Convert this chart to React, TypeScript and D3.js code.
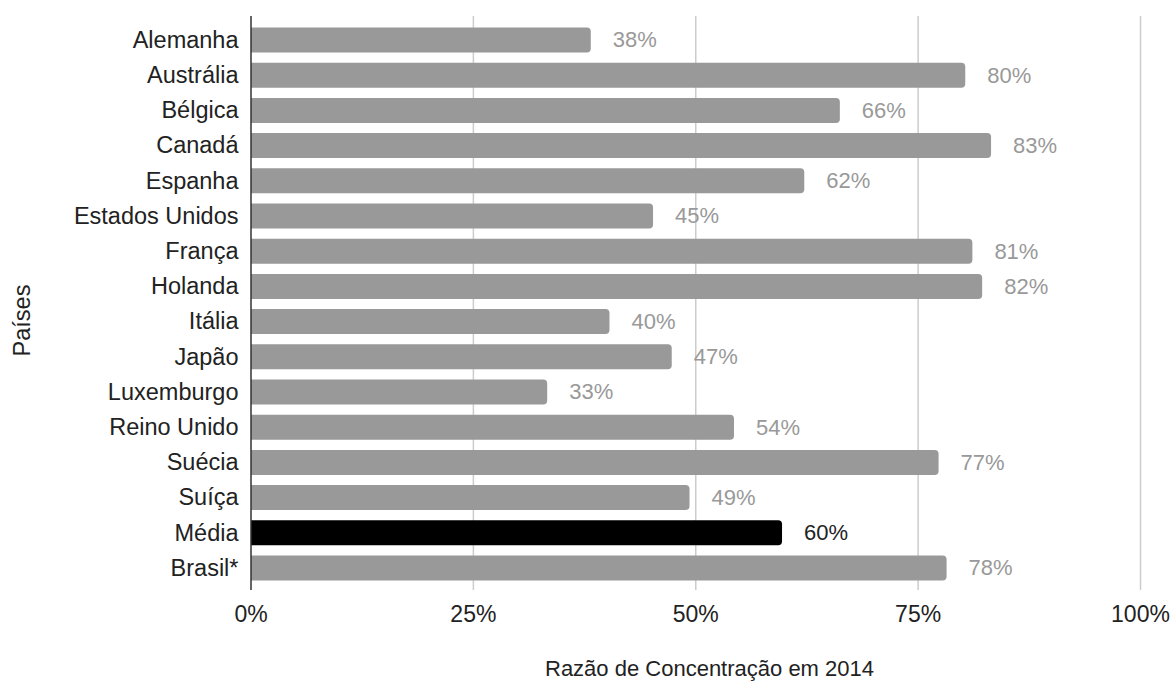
import React from "react";
import * as d3 from "d3";

const categories = [
  "Alemanha", "Austrália", "Bélgica", "Canadá", "Espanha", "Estados Unidos",
  "França", "Holanda", "Itália", "Japão", "Luxemburgo", "Reino Unido",
  "Suécia", "Suíça", "Média", "Brasil*",
];
const values = [
  38.2, 80.3, 66.2, 83.2, 62.2, 45.2, 81.1, 82.2, 40.3, 47.3, 33.3, 54.3,
  77.3, 49.3, 59.7, 78.2,
];
const highlighted = ["Média"];
const xTicks = [0, 25, 50, 75, 100];
const xTitle = "Razão de Concentração em 2014";
const yTitle = "Países";

const W = 1171;
const H = 684;
const FONT = "Arial, 'Liberation Sans', sans-serif";

export default function App() {
  const x = d3.scaleLinear().domain([0, 100]).range([251, 1140.5]);
  const y = d3
    .scaleBand<string>()
    .domain(categories)
    .range([22.4, 585.6])
    .paddingInner(0.29)
    .paddingOuter(0.145);
  const fmt = d3.format(".0%");
  const bw = y.bandwidth();
  const r = 4;
  const top = 16;
  const bottom = 590;

  const barPath = (v: number, c: string) => {
    const x0 = x(0);
    const x1 = x(v);
    const y0 = y(c) as number;
    const y1 = y0 + bw;
    return `M${x0},${y0}H${x1 - r}Q${x1},${y0} ${x1},${y0 + r}V${y1 - r}Q${x1},${y1} ${x1 - r},${y1}H${x0}Z`;
  };

  return (
    <svg
      width={W}
      height={H}
      style={{ position: "absolute", left: 0, top: 0, background: "#fff" }}
      fontFamily={FONT}
    >
      {xTicks.slice(1).map((t) => (
        <line key={t} x1={x(t)} x2={x(t)} y1={top} y2={bottom} stroke="#cccccc" strokeWidth={1.5} />
      ))}
      {categories.map((c, i) => (
        <path key={c} d={barPath(values[i], c)} fill={highlighted.includes(c) ? "#000000" : "#999999"} />
      ))}
      {categories.map((c, i) => (
        <text
          key={"l" + c}
          x={x(values[i]) + 22}
          y={(y(c) as number) + bw / 2}
          dy="0.34em"
          fontSize={22}
          fill={highlighted.includes(c) ? "#222222" : "#999999"}
        >
          {fmt(values[i] / 100)}
        </text>
      ))}
      {categories.map((c) => (
        <text
          key={"c" + c}
          x={238.5}
          y={(y(c) as number) + bw / 2}
          dy="0.33em"
          fontSize={23.5}
          textAnchor="end"
          fill="#222222"
        >
          {c}
        </text>
      ))}
      <line x1={x(0)} x2={x(0)} y1={top} y2={bottom} stroke="#333333" strokeWidth={1.5} />
      {xTicks.map((t) => (
        <text key={"t" + t} x={x(t)} y={621.5} fontSize={23} textAnchor="middle" fill="#222222">
          {fmt(t / 100)}
        </text>
      ))}
      <text x={709.5} y={676} fontSize={22} textAnchor="middle" fill="#222222">
        {xTitle}
      </text>
      <text
        transform={`translate(30,320.5) rotate(-90)`}
        fontSize={23.5}
        textAnchor="middle"
        fill="#222222"
      >
        {yTitle}
      </text>
    </svg>
  );
}
